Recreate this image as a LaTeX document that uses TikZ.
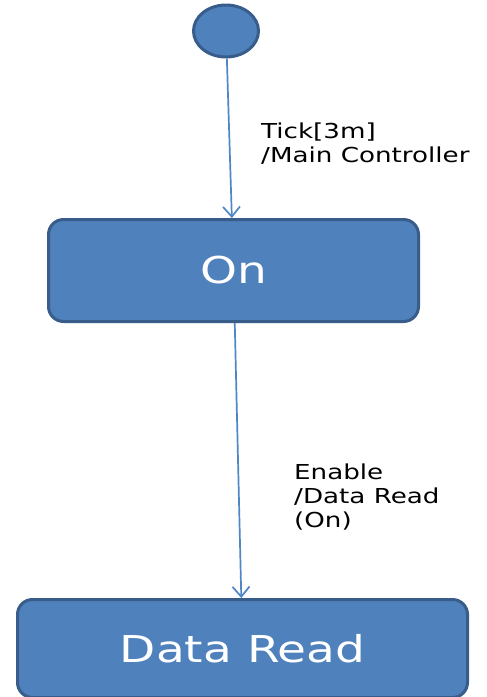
\documentclass[tikz,border=0pt]{standalone}
\usepackage{fontspec}
\usetikzlibrary{shapes.geometric,arrows.meta}
\newfontfamily\diagfont{DejaVu Sans}[FakeStretch=1.27]
\definecolor{stfill}{HTML}{4F81BD}
\definecolor{stdraw}{HTML}{385D8A}
\definecolor{trcol}{HTML}{4F86C6}
\tikzset{
  initstate/.style={
    shape = ellipse,
    draw = stdraw,
    fill = stfill,
    line width = 3pt,
    inner sep = 0pt,
    minimum width = 65pt,
    minimum height = 52pt
  },
  state/.style={
    draw = stdraw,
    fill = stfill,
    line width = 3pt,
    rounded corners = 15pt,
    text = white,
    font = \diagfont\fontsize{37}{40}\selectfont
  },
  trans/.style={
    draw = trcol,
    line width = 1.7pt,
    -{Straight Barb[length=10pt,width=17pt,line width=1.7pt]}
  },
  translabel/.style={
    anchor = base west,
    align = left,
    inner sep = 0pt,
    font = \diagfont\fontsize{20.6}{24}\selectfont
  }
}
\begin{document}
\begin{tikzpicture}[x=1pt,y=-1pt]
        \clip (0,0) rectangle (487,697);
        \fill[white] (0,0) rectangle (487,697);
        \node[initstate] (init) at (226,31) {};
        \node[state, minimum width=370pt, minimum height=102pt] (on) at (233.5,270.5) {On};
        \node[state, minimum width=450pt, minimum height=98pt] (dread) at (242.5,648.5) {Data Read};
        \draw[trans] (init) -- (on);
        \draw[trans] (on) -- (dread);
        % base anchor sits on the last line
        \node[translabel] (lbltick) at (261,162) {Tick[3m]\\/Main Controller};
        \node[translabel] (lblenable) at (294,527) {Enable\\/Data Read\\(On)};
\end{tikzpicture}
\end{document}
